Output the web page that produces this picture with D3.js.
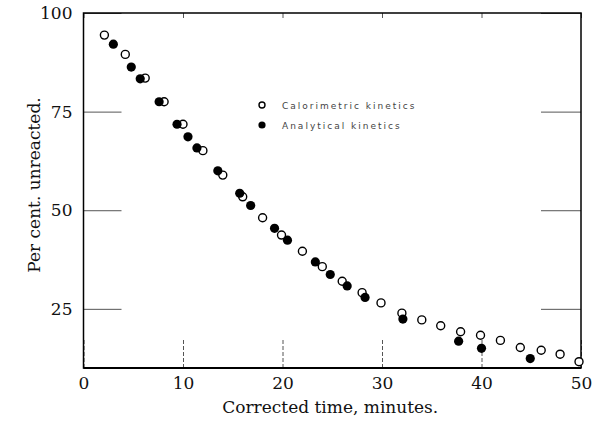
<!DOCTYPE html>
<html>
  <head>
    <meta charset="utf-8">
    <script src="https://cdn.jsdelivr.net/npm/d3@7"></script>
    <style>
      body { margin: 0; background: #fff; }
      svg text { font-family: "DejaVu Serif", "Liberation Serif", serif; fill: #111; }
      .axis .domain { display: none; }
      .axis .tick line { stroke: #555; stroke-width: 1; }
      .axis text { font-size: 17px; }
      .legend text { font-family: "DejaVu Sans", sans-serif; font-size: 9px; letter-spacing: 2px; fill: #444; }
    </style>
  </head>
<body>
  <script type="text/javascript">
    // Calorimetric kinetics (open circles)
    var caloTime = [2.1, 4.2, 6.2, 8.1, 10.0, 12.0, 14.0, 16.0, 18.0, 19.9, 22.0, 24.0, 26.0, 28.0, 29.9,
                    32.0, 34.0, 35.9, 37.9, 39.9, 41.9, 43.9, 46.0, 47.9, 49.8];
    var caloPct  = [94.4, 89.5, 83.5, 77.5, 71.8, 65.1, 58.9, 53.4, 48.1, 43.7, 39.6, 35.7, 32.0, 29.1, 26.5,
                    23.9, 22.2, 20.7, 19.2, 18.3, 17.0, 15.2, 14.5, 13.5, 11.6];
    // Analytical kinetics (filled circles)
    var anaTime = [3.0, 4.8, 5.7, 7.6, 9.4, 10.5, 11.4, 13.5, 15.7, 16.8, 19.2, 20.5, 23.3, 24.8, 26.5,
                   28.3, 32.1, 37.7, 40.0, 44.9];
    var anaPct  = [92.1, 86.3, 83.3, 77.5, 71.8, 68.6, 65.8, 60.0, 54.3, 51.2, 45.4, 42.4, 36.9, 33.7, 30.8,
                   27.9, 22.4, 16.8, 15.0, 12.4];
    var xTicks = [0, 10, 20, 30, 40, 50];
    var yTicks = [25, 50, 75, 100];
    var legendLabels = ["Calorimetric kinetics", "Analytical kinetics"];

    (function draw() {
      var W = 594, H = 428,
          pLeft = 83.5, pRight = 581, pTop = 13, pBottom = 368,
          radius = 4;

      var svg = d3.select("body").append("svg")
        .attr("width", W).attr("height", H);

      var x = d3.scaleLinear().domain([0, 50]).range([pLeft, pRight]);
      var y = d3.scaleLinear().domain([10, 100]).range([pBottom, pTop]);

      // inner tick marks + labels
      svg.append("g").attr("class", "axis")
        .attr("transform", "translate(" + pLeft + ",0)")
        .call(d3.axisLeft(y).tickValues(yTicks).tickSizeInner(-38).tickSizeOuter(0).tickPadding(11));
      svg.append("g").attr("class", "axis")
        .attr("transform", "translate(" + pRight + ",0)")
        .call(d3.axisRight(y).tickValues(yTicks).tickSizeInner(-40).tickSizeOuter(0).tickFormat(""));
      svg.append("g").attr("class", "axis x")
        .attr("transform", "translate(0," + pBottom + ")")
        .call(d3.axisBottom(x).tickValues(xTicks).tickSizeInner(-30).tickSizeOuter(0).tickPadding(9));
      svg.append("g").attr("class", "axis")
        .attr("transform", "translate(0," + pTop + ")")
        .call(d3.axisTop(x).tickValues(xTicks).tickSizeInner(-5).tickSizeOuter(0).tickFormat(""));
      svg.selectAll(".axis.x .tick line").attr("stroke-dasharray", "4,2");

      // frame
      svg.append("rect")
        .attr("x", pLeft).attr("y", pTop)
        .attr("width", pRight - pLeft).attr("height", pBottom - pTop)
        .attr("fill", "none").attr("stroke", "#000").attr("stroke-width", 1.5);
      svg.append("line")
        .attr("x1", pLeft).attr("x2", pRight).attr("y1", pBottom).attr("y2", pBottom)
        .attr("stroke", "#000").attr("stroke-width", 2.2);

      // axis titles
      svg.append("text")
        .attr("x", (pLeft + pRight) / 2 - 2).attr("y", 413)
        .attr("text-anchor", "middle").attr("font-size", 17)
        .text("Corrected time, minutes.");
      svg.append("text")
        .attr("transform", "translate(40,185)rotate(-90)")
        .attr("text-anchor", "middle").attr("font-size", 17)
        .text("Per cent. unreacted.");

      // points
      var calo = d3.zip(caloTime, caloPct), ana = d3.zip(anaTime, anaPct);
      svg.append("g").selectAll("circle").data(calo).enter().append("circle")
        .attr("cx", function(d) { return x(d[0]); })
        .attr("cy", function(d) { return y(d[1]); })
        .attr("r", radius)
        .attr("fill", "#fff").attr("stroke", "#000").attr("stroke-width", 1.4);
      svg.append("g").selectAll("circle").data(ana).enter().append("circle")
        .attr("cx", function(d) { return x(d[0]); })
        .attr("cy", function(d) { return y(d[1]); })
        .attr("r", radius + 0.6)
        .attr("fill", "#000");

      // legend
      var legend = svg.append("g").attr("class", "legend")
        .attr("transform", "translate(262,105)")
        .selectAll("g").data(legendLabels).enter().append("g")
        .attr("transform", function(d, i) { return "translate(0," + (20 * i) + ")"; });
      legend.append("circle")
        .attr("r", function(d, i) { return i === 0 ? 3 : 3.6; })
        .attr("fill", function(d, i) { return i === 0 ? "#fff" : "#000"; })
        .attr("stroke", "#000").attr("stroke-width", function(d, i) { return i === 0 ? 1.4 : 0; });
      legend.append("text")
        .attr("x", 20).attr("y", 3.5)
        .text(function(d) { return d; });
    })();
  </script>
</body>
</html>
